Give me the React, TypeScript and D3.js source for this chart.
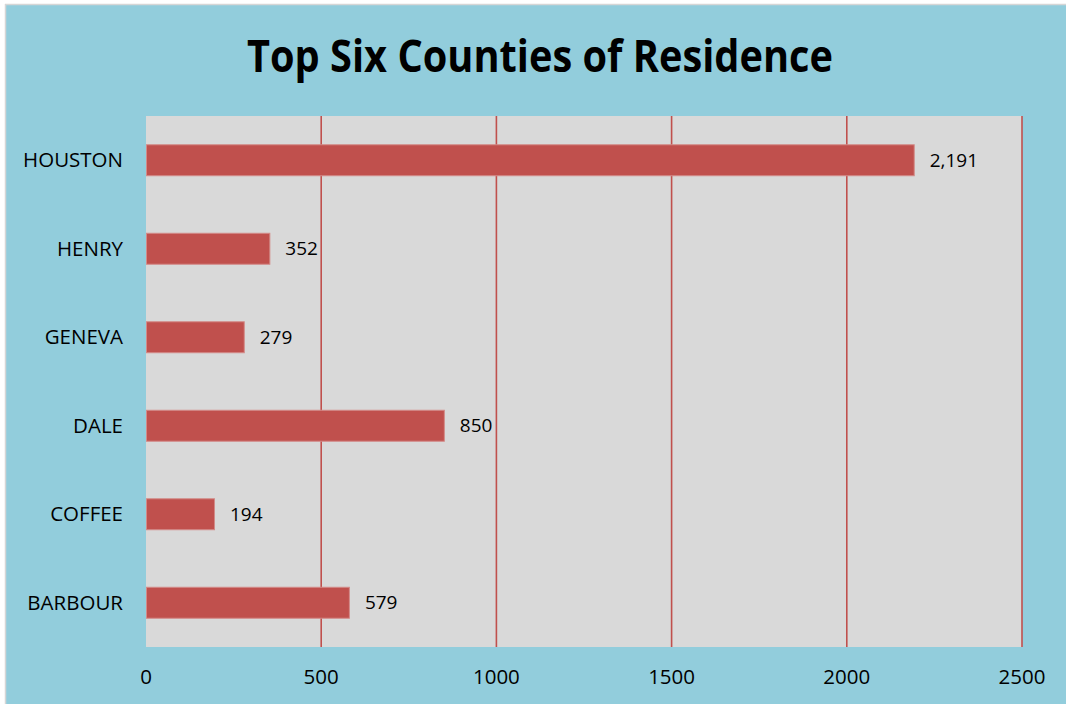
import React from "react";
import * as d3 from "d3";

const categories = ["HOUSTON", "HENRY", "GENEVA", "DALE", "COFFEE", "BARBOUR"];
const values = [2191, 352, 279, 850, 194, 579];
const tickValues = [0, 500, 1000, 1500, 2000, 2500];
const title = "Top Six Counties of Residence";

const W = 1066;
const H = 704;
const plot = { left: 146, right: 1022, top: 116, bottom: 647 };
const font = "'Open Sans', 'Noto Sans', sans-serif";

export default function App() {
  const x = d3.scaleLinear().domain([0, 2500]).range([plot.left, plot.right]);
  const y = d3
    .scaleBand<string>()
    .domain(categories)
    .range([plot.top, plot.bottom])
    .paddingInner(0.65)
    .paddingOuter(0.325);
  const fmt = d3.format(",");

  return (
    <svg
      width={W}
      height={H}
      style={{ position: "absolute", left: 0, top: 0 }}
      xmlns="http://www.w3.org/2000/svg"
    >
      <rect x={0} y={0} width={W} height={H} fill="#ffffff" />
      <rect x={5} y={4} width={W - 5} height={H - 4} fill="#92CDDC" />
      <line x1={5} y1={4.5} x2={W} y2={4.5} stroke="#d6d6d6" strokeWidth={1.5} />
      <line x1={5.5} y1={4} x2={5.5} y2={H} stroke="#d6d6d6" strokeWidth={1.5} />
      <text
        x={540}
        y={72}
        textAnchor="middle"
        fontFamily={font}
        fontWeight="bold"
        fontSize={45}
        textLength={586}
        lengthAdjust="spacingAndGlyphs"
        fill="#000"
      >
        {title}
      </text>
      <rect
        x={plot.left}
        y={plot.top}
        width={plot.right - plot.left}
        height={plot.bottom - plot.top}
        fill="#D9D9D9"
      />
      {tickValues
        .filter((t) => t > 0)
        .map((t) => (
          <line
            key={"g" + t}
            x1={x(t)}
            x2={x(t)}
            y1={plot.top}
            y2={plot.bottom}
            stroke="#C0504D"
            strokeWidth={1.6}
          />
        ))}
      {categories.map((c, i) => (
        <g key={c}>
          <rect
            x={x(0) + 0.5}
            y={y(c)!}
            width={x(values[i]) - x(0)}
            height={y.bandwidth()}
            fill="#C0504D"
            stroke="#D38A88"
            strokeWidth={1}
          />
          <text
            x={x(values[i]) + 16}
            y={y(c)! + y.bandwidth() / 2}
            dy="0.35em"
            fontFamily={font}
            fontSize={19}
            fill="#000"
          >
            {fmt(values[i])}
          </text>
          <text
            x={123}
            y={y(c)! + y.bandwidth() / 2}
            dy="0.35em"
            textAnchor="end"
            fontFamily={font}
            fontSize={20.5}
            fill="#000"
          >
            {c}
          </text>
        </g>
      ))}
      {tickValues.map((t) => (
        <text
          key={"t" + t}
          x={x(t)}
          y={684}
          textAnchor="middle"
          fontFamily={font}
          fontSize={20.5}
          fill="#000"
        >
          {t}
        </text>
      ))}
    </svg>
  );
}
